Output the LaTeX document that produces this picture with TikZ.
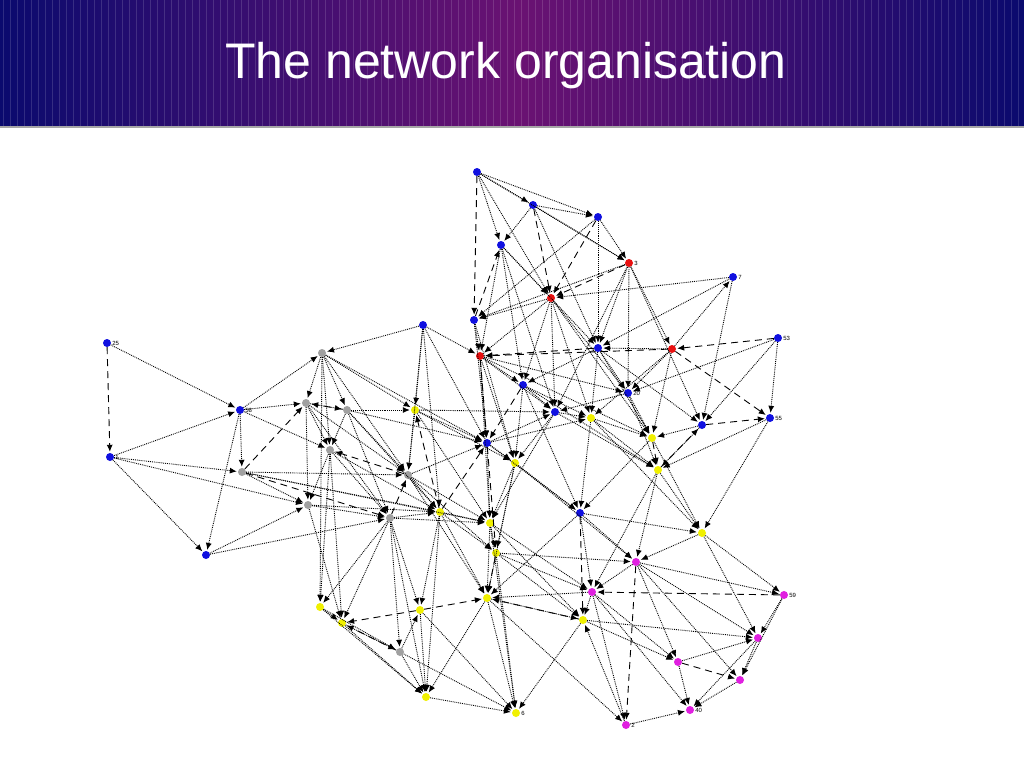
\documentclass[tikz,border=0pt]{standalone}
\usepackage{fontspec}
\setmainfont{Liberation Sans}
\usetikzlibrary{arrows.meta}
\definecolor{navy}{HTML}{0A0A6E}
\definecolor{purp}{HTML}{6A1272}
\definecolor{nblue}{HTML}{1010E0}
\definecolor{nred}{HTML}{E81010}
\definecolor{ngray}{HTML}{A0A0A0}
\definecolor{nyel}{HTML}{F0F000}
\definecolor{nmag}{HTML}{E020E0}
\begin{document}
\begin{tikzpicture}[x=1pt,y=-1pt,
  vert/.style={circle,inner sep=0pt,minimum size=8pt,draw=none},
  lnk/.style={densely dotted,line width=0.9pt,-{Latex[length=7pt,width=6pt]},shorten >=1pt},
  lnkd/.style={dash pattern=on 7pt off 5pt,line width=0.9pt,-{Latex[length=7pt,width=6pt]},shorten >=1pt},
  lab/.style={font=\fontsize{6}{6}\selectfont,inner sep=1pt}]
\useasboundingbox (0,0) rectangle (1024,768);
\fill[white] (0,0) rectangle (1024,768);
% banner
\shade[left color=navy,right color=purp] (0,0) rectangle (520,127);
\shade[left color=purp,right color=navy] (520,0) rectangle (1024,127);
\foreach \x in {3,10,...,1022} \draw[white,opacity=0.14,line width=0.6pt] (\x,0) -- (\x,126);
\fill[gray!70] (0,126) rectangle (1024,128);
\node[text=white,font=\fontsize{50}{55}\selectfont] (title) at (506,66) {The network organisation};
% nodes
\foreach \n/\x/\y in {1/477/172,2/533/205,3/598/217,4/501/245,5/474/320,6/423/325,7/107/343,8/110/457,9/240/410,10/206/555,11/733/277,12/778/338,13/598/348,14/523/385,15/628/393,16/555/412,17/702/425,18/770/418,19/487/443,20/580/513}
  \node[vert,fill=nblue] (n\n) at (\x,\y) {};
\foreach \n/\x/\y in {21/629/263,22/551/298,23/480/356,24/672/349}
  \node[vert,fill=nred] (n\n) at (\x,\y) {};
\foreach \n/\x/\y in {25/322/353,26/306/403,27/347/410,28/330/450,29/242/472,30/408/475,31/308/505,32/390/518,33/400/652}
  \node[vert,fill=ngray] (n\n) at (\x,\y) {};
\foreach \n/\x/\y in {34/415/410,35/591/418,36/652/438,37/515/463,38/658/470,39/440/512,40/490/523,41/496/553,42/702/533,43/320/607,44/342/623,45/420/610,46/487/598,47/583/620,48/426/697,49/516/713}
  \node[vert,fill=nyel] (n\n) at (\x,\y) {};
\foreach \n/\x/\y in {50/636/562,51/592/592,52/784/595,53/758/638,54/678/662,55/740/680,56/690/710,57/626/725}
  \node[vert,fill=nmag] (n\n) at (\x,\y) {};
% edges
\foreach \a/\b in {7/9,8/9,8/10,9/10,9/25,8/29,10/32,9/29,1/2,1/3,1/22,1/21,2/3,2/4,2/13,3/21,3/5,4/22,4/14,21/24,21/13,21/5,21/17,22/5,22/23,22/14,22/16,22/35,11/13,12/15,12/17,24/13,24/36,18/38,18/42,17/36,6/23,6/25,6/34,6/19,23/14,23/19,23/15,23/36,25/26,25/27,25/28,25/34,25/43,26/27,26/28,26/31,27/28,27/30,27/32,28/31,28/32,29/30,29/31,34/30,34/19,34/16,30/39,30/40,32/39,32/43,32/44,32/33,32/48,39/40,39/45,19/40,19/37,19/16,14/16,14/35,14/37,16/35,16/37,35/36,35/38,35/20,37/20,37/40,37/41,40/41,40/46,41/50,20/50,20/42,38/42,38/50,42/50,50/51,50/52,50/53,50/54,51/47,51/46,51/54,52/53,52/55,53/55,53/56,54/56,55/56,57/56,57/47,47/49,46/49,46/48,45/48,43/44,43/33,44/33,33/48,48/49,40/47,41/47,15/38,13/15,13/35,31/39,28/43,40/49,39/48,27/19,24/11,11/22,5/23,15/36,
  6/30,6/39,5/19,5/37,4/23,4/16,2/21,3/13,22/15,22/36,21/15,21/16,13/36,13/17,14/38,14/20,16/38,16/40,35/42,36/42,23/37,23/40,23/16,19/35,19/20,34/40,34/37,30/41,30/46,30/19,39/41,39/46,32/40,32/45,31/32,31/44,26/30,26/32,25/30,27/39,28/39,28/44,29/39,29/40,37/50,37/46,40/51,41/51,20/51,20/46,38/51,42/52,42/53,50/55,51/57,51/56,46/57,46/47,41/49,45/49,44/48,43/48,33/45,33/49,47/54,47/53,54/53,36/20,17/38,15/16,13/14,24/35,24/15,12/18,11/17,4/13,1/4,25/19,27/34,9/26,9/28,10/31,8/31}
  \draw[lnk] (n\a) -- (n\b);
\foreach \a/\b in {7/8,12/24,29/26,2/22,21/22,3/22,5/4,24/23,24/18,36/38,32/30,39/34,45/46,45/44,47/46,50/57,54/55,29/32,20/47,41/46,1/5,13/23,17/18,30/28,38/17,39/19,19/41,52/51,23/19,14/19,33/44,27/26}
  \draw[lnkd] (n\a) -- (n\b);
% labels
\node[lab,right] (l12) at (n12.east) {53};
\node[lab,right] (l18) at (n18.east) {55};
\node[lab,right] (l9) at (n9.east) {58};
\node[lab,right] (l52) at (n52.east) {59};
\node[lab,right] (l7) at (n7.east) {25};
\node[lab,right] (l8) at (n8.east) {1};
\node[lab,right] (l21) at (n21.east) {3};
\node[lab,right] (l11) at (n11.east) {7};
\node[lab,right] (l15) at (n15.east) {20};
\node[lab,right] (l56) at (n56.east) {40};
\node[lab,right] (l49) at (n49.east) {6};
\node[lab,right] (l57) at (n57.east) {2};
\end{tikzpicture}
\end{document}
